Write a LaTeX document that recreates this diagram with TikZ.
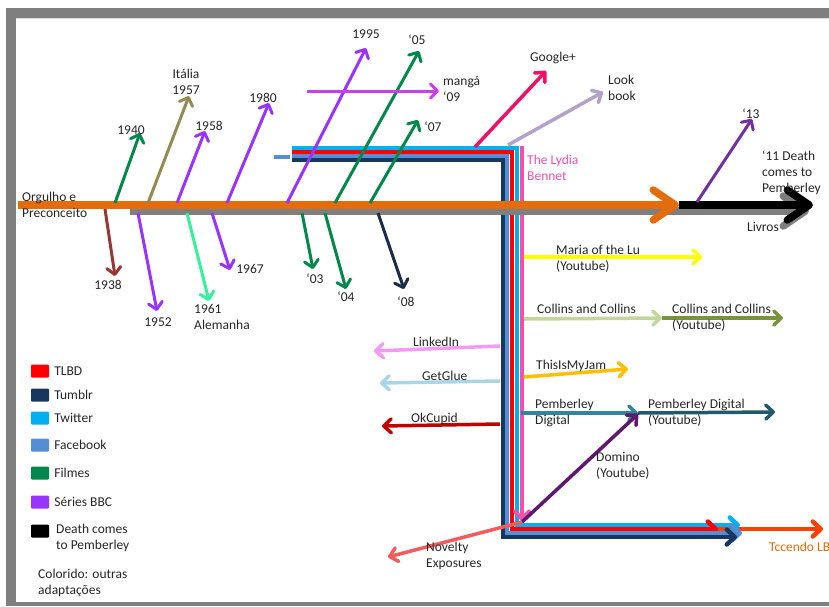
\documentclass[tikz,border=0pt]{standalone}
\usepackage{fontspec}
\setmainfont{Carlito}
\usepackage{tikz}
\usetikzlibrary{arrows.meta,positioning,calc}
\definecolor{frame}{HTML}{7F7F7F}
\definecolor{txt}{HTML}{262626}
\definecolor{orgulho}{HTML}{E46C0A}
\definecolor{livros}{HTML}{7F7F7F}
\definecolor{brick}{HTML}{953735}
\definecolor{filme}{HTML}{00874B}
\definecolor{italia}{HTML}{948A54}
\definecolor{bbc}{HTML}{9933FF}
\definecolor{alemanha}{HTML}{33F29A}
\definecolor{navyoito}{HTML}{1B2B4B}
\definecolor{bbctreze}{HTML}{7030A0}
\definecolor{manga}{HTML}{CC3EF2}
\definecolor{twitter}{HTML}{00B0F0}
\definecolor{tlbd}{HTML}{FF0000}
\definecolor{facebook}{HTML}{558ED5}
\definecolor{tumblr}{HTML}{17375E}
\definecolor{lydia}{HTML}{EE52AE}
\definecolor{gplus}{HTML}{EE1166}
\definecolor{lookbook}{HTML}{B3A2C7}
\definecolor{maria}{HTML}{FFFF00}
\definecolor{collins}{HTML}{C3D69B}
\definecolor{collinsyt}{HTML}{77933C}
\definecolor{jam}{HTML}{FFC000}
\definecolor{pemb}{HTML}{31859C}
\definecolor{pembyt}{HTML}{215968}
\definecolor{domino}{HTML}{5E1870}
\definecolor{novelty}{HTML}{F25C5C}
\definecolor{linked}{HTML}{F49AF2}
\definecolor{getglue}{HTML}{A9D5E6}
\definecolor{okcupid}{HTML}{C00000}
\definecolor{tecendo}{HTML}{FF4000}
\begin{document}
\begin{tikzpicture}[x=1pt,y=-1pt,
  every node/.style={font=\fontsize{13.5}{16}\selectfont,inner sep=0pt,align=left,text=txt},
  yeararrow/.style={line width=3pt,-{Straight Barb[round,length=7pt,width=14pt]}},
  netline/.style={line width=4.5pt,-{Straight Barb[round,length=8pt,width=15pt]}},
  netarrow/.style={line width=3.5pt,-{Straight Barb[round,length=7.5pt,width=14pt]}},
  mainline/.style={line width=7.5pt,-{Straight Barb[round,length=22pt,width=30pt]}},
  keybox/.style={minimum width=18pt,minimum height=13pt,rounded corners=1pt}]
\useasboundingbox (0,0) rectangle (829,606);
% moldura
\fill[frame] (6,8) rectangle (829,606);
\fill[white] (16,18) rectangle (829,602);
\draw[black!15] (16,18.5) -- (829,18.5);

% redes sociais em L
\coordinate (tc0) at (716,529);
\coordinate (tc1) at (823,529);
\draw[netline,tecendo] (tc0) -- (tc1);
\foreach \n/\c/\y/\x/\yb/\xe in {tw/twitter/148/517/525/740,tl/tlbd/152/512/529/718,fb/facebook/156/507/533/742,tu/tumblr/160/503/537/737}{
  \coordinate (\n0) at (292,\y);
  \coordinate (\n1) at (\x,\yb);
  \coordinate (\n2) at (\xe,\yb);
  \draw[netline,color=\c] (\n0) -| (\n1) -- (\n2);
}
\draw[facebook,line width=4pt] (274,157) -- (290,157);
\coordinate (ly0) at (522,146);
\coordinate (ly1) at (522,521);
\draw[netarrow,lydia,line width=4pt] (ly0) -- (ly1);

% linhas principais
\coordinate (or0) at (18,205);
\coordinate (or1) at (679,205);
\coordinate (li0) at (130,211);
\coordinate (li1) at (809,211);
\coordinate (dc1) at (813,205);
\draw[mainline,livros] (li0) -- (li1);
\draw[mainline,black] (or1) -- (dc1);
\draw[mainline,orgulho] (or0) -- (or1);

% adaptacoes
\foreach \n/\c/\sx/\sy/\ex/\ey in {y38/brick/105/209/115/276,y40/filme/115/203/140/133,y57/italia/148/203/189/96,y52/bbc/138/213/157/311,y58/bbc/177/203/205/131,y61/alemanha/187/213/209/301,y67/bbc/212/213/230/270,y80/bbc/227/203/269/103,y95/bbc/287/203/366/48,y05/filme/335/203/419/51,y07/filme/370/203/418/120,y03/filme/302/213/313/269,y04/filme/325/213/346/289,y08/navyoito/378/213/404/289,y13/bbctreze/697/202/752/119,y09/manga/307/91/439/91}{
  \coordinate (\n a) at (\sx,\sy);
  \coordinate (\n b) at (\ex,\ey);
  \draw[yeararrow,color=\c] (\n a) -- (\n b);
}

% ramos das redes
\foreach \n/\c/\sx/\sy/\ex/\ey in {gp/gplus/475/147/546/71,lb/lookbook/508/145/603/92,ma/maria/524/257/702/257,co/collins/524/319/662/318,cy/collinsyt/662/318/783/318,jm/jam/524/377/628/369,pd/pemb/521/413/638/413,py/pembyt/638/413/775/412,dm/domino/522/522/638/414,nv/novelty/522/522/388/557,ln/linked/500/346/374/351,gg/getglue/500/381/380/383,ok/okcupid/500/424/382/426}{
  \coordinate (\n a) at (\sx,\sy);
  \coordinate (\n b) at (\ex,\ey);
  \draw[netarrow,color=\c] (\n a) -- (\n b);
}

% rotulos
\foreach \n/\x/\y/\t in {t38/108/285/1938,t40/131/130/1940,t52/158/322/1952,t58/209/126/1958,t67/250/269/1967,t80/263/98/1980,t95/366/34/1995,t05/417/40/‘05,t07/433/127/‘07,t03/315/279/‘03,t04/346/297/‘04,t08/406/302/‘08,t13/751/114/‘13,tgp/553/58/Google+,tliv/763/227/Livros}
  \node (\n) at (\x,\y) {\t};
\node[align=center] (t57) at (186,82) {Itália\\1957};
\foreach \n/\x/\y/\t in {t61/194/317/{1961\\Alemanha},t09/443/89/{mangá\\‘09},tlb/608/88/{Look\\book},t11/762/173/{‘11 Death\\comes to\\Pemberley},tor/22/205/{Orgulho e\\Preconceito},tma/556/259/{Maria of the Lu\\(Youtube)},tco/537/309/{Collins and Collins},tcy/672/318/{Collins and Collins\\(Youtube)},tjm/536/366/{ThisIsMyJam},tpd/535/413/{Pemberley\\Digital},tpy/648/413/{Pemberley Digital\\(Youtube)},tdm/596/466/{Domino\\(Youtube)},tnv/426/556/{Novelty\\Exposures},tln/413/342/{LinkedIn},tgg/422/376/{GetGlue},tok/411/419/{OkCupid}}
  \node[anchor=west] (\n) at (\x,\y) {\t};
\node[anchor=west,text=lydia] (tly) at (527,168) {The Lydia\\Bennet};
\node[anchor=west,text=orgulho] (ttc) at (769,547) {Tccendo LB};

% legenda
\foreach \n/\c/\y/\t in {tlbd/tlbd/371/TLBD,tumb/tumblr/395/Tumblr,twit/twitter/418/Twitter,face/facebook/445/Facebook,film/filme/473/Filmes,bbc/bbc/502/Séries BBC}{
  \node[keybox,fill=\c] (k\n) at (40,\y) {};
  \node[right=5pt of k\n] (l\n) {\t};
}
\node[keybox,fill=black] (kdeath) at (40,531) {};
\node[anchor=west] (ldeath) at (56,538) {Death comes\\to Pemberley};
\node[anchor=west] (lcor) at (38,583) {Colorido: outras\\adaptações};
\end{tikzpicture}
\end{document}
